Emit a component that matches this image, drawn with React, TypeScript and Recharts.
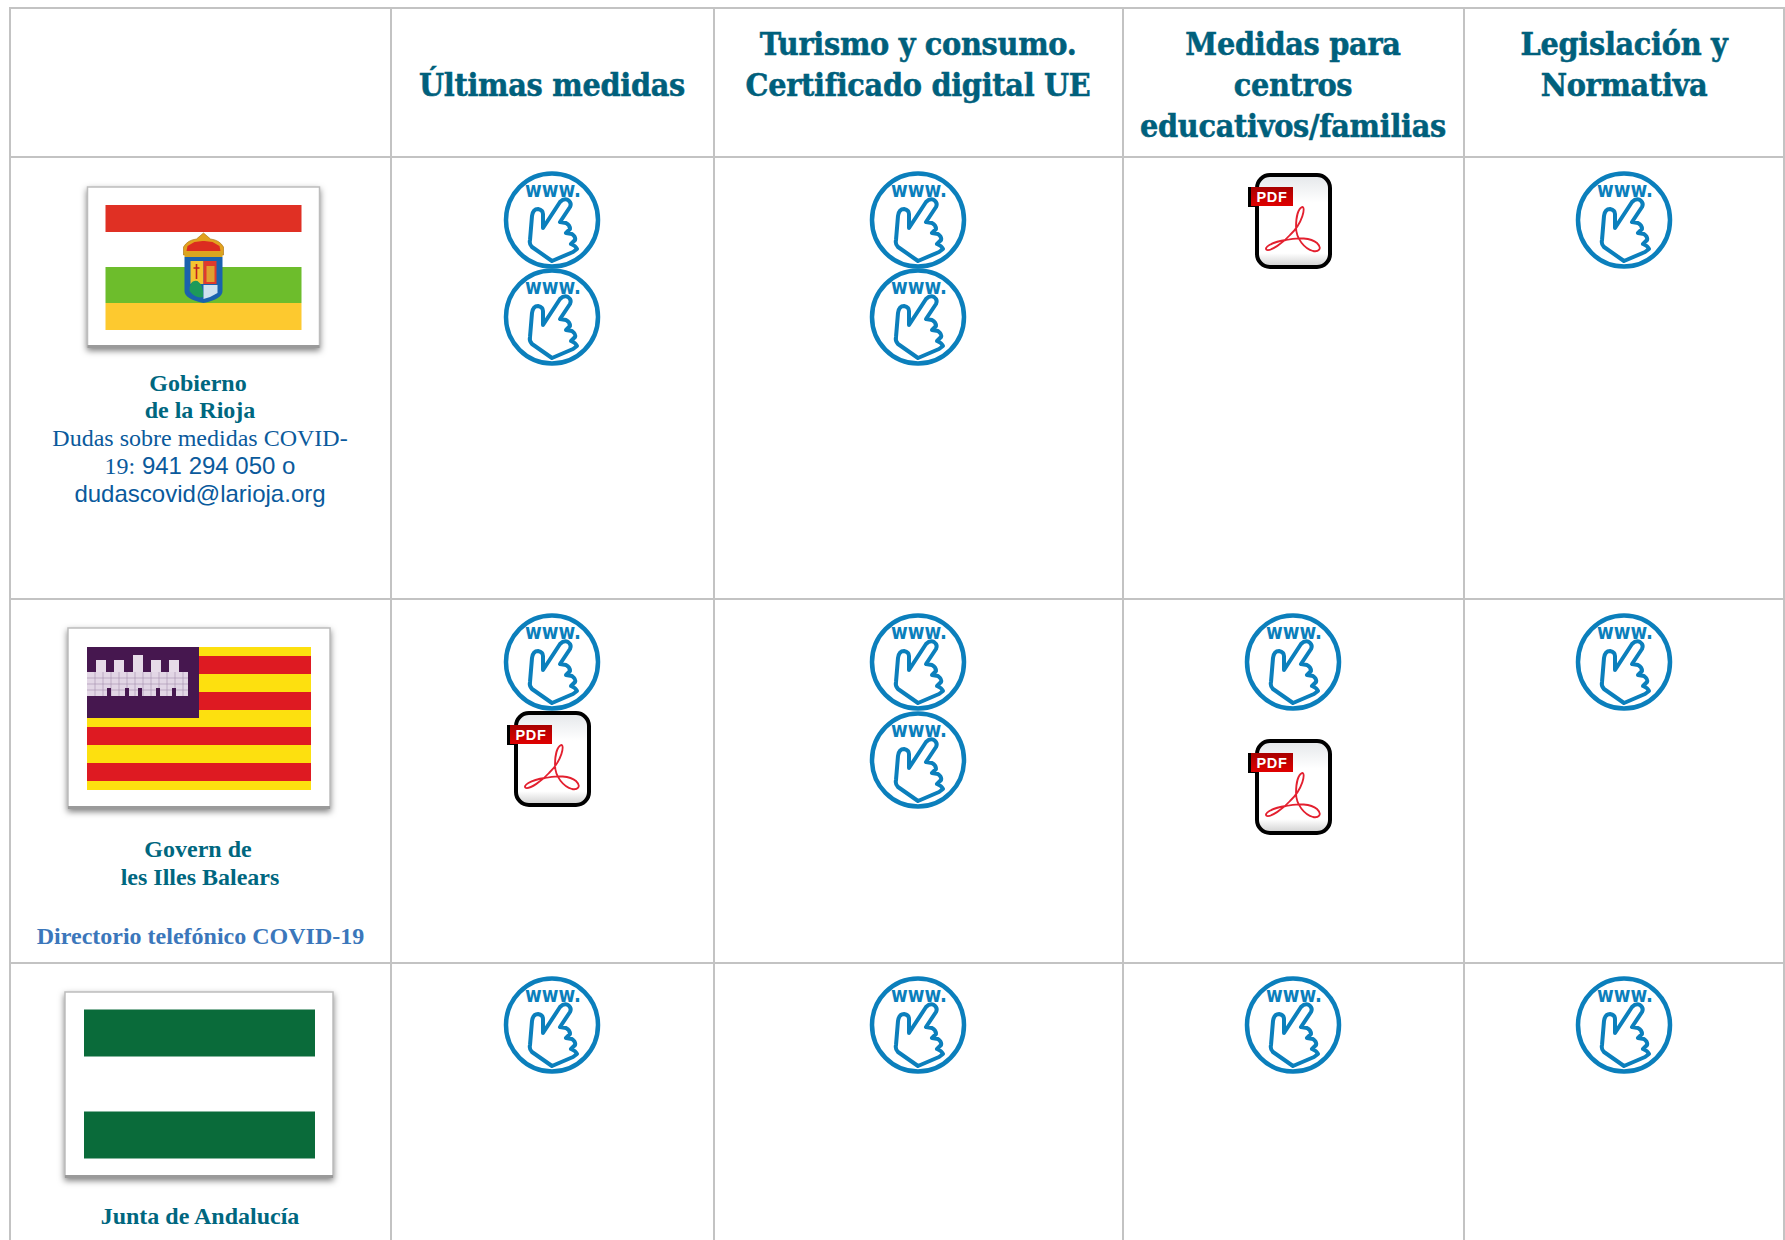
import { ScatterChart, Scatter, XAxis, YAxis, ReferenceLine } from 'recharts';

// la tabla se dibuja sobre ejes numericos en px de la imagen
const W = 1785;
const H = 1240;

const columnLinesX = [10, 391, 714, 1123, 1464, 1784];
const rowLinesY = [8, 157, 599, 963];

const COL1 = 552;
const COL2 = 918;
const COL3 = 1293;
const COL4 = 1624;

const headerLabels = [
  { x: COL1, y: 96, text: 'Últimas medidas' },
  { x: COL2, y: 55, text: 'Turismo y consumo.' },
  { x: COL2, y: 96, text: 'Certificado digital UE' },
  { x: COL3, y: 55, text: 'Medidas para' },
  { x: COL3, y: 96, text: 'centros' },
  { x: COL3, y: 137, text: 'educativos/familias' },
  { x: COL4, y: 55, text: 'Legislación y' },
  { x: COL4, y: 96, text: 'Normativa' },
];

const orgNames = [
  { x: 198, y: 391, text: 'Gobierno' },
  { x: 200, y: 418, text: 'de la Rioja' },
  { x: 198, y: 857, text: 'Govern de' },
  { x: 200, y: 885, text: 'les Illes Balears' },
  { x: 200, y: 1224, text: 'Junta de Andalucía' },
];

const phoneLink = [{ x: 200.5, y: 944, text: 'Directorio telefónico COVID-19' }];
const serifNotes = [{ x: 200, y: 446, text: 'Dudas sobre medidas COVID-' }];
const mixedNotes = [{ x: 200, y: 474, lead: '19:', text: ' 941 294 050 o' }];
const sansNotes = [{ x: 200, y: 502, text: 'dudascovid@larioja.org' }];

const wwwIcons = [
  { x: COL1, y: 220 },
  { x: COL1, y: 317 },
  { x: COL2, y: 220 },
  { x: COL2, y: 317 },
  { x: COL4, y: 220 },
  { x: COL1, y: 662 },
  { x: COL2, y: 662 },
  { x: COL2, y: 760 },
  { x: COL3, y: 662 },
  { x: COL4, y: 662 },
  { x: COL1, y: 1025 },
  { x: COL2, y: 1025 },
  { x: COL3, y: 1025 },
  { x: COL4, y: 1025 },
];

const pdfIcons = [
  { x: COL3, y: 221 },
  { x: COL1, y: 759 },
  { x: COL3, y: 787 },
];

const riojaFlag = [{ x: 203.5, y: 267 }];
const balearesFlag = [{ x: 199, y: 718 }];
const andaluciaFlag = [{ x: 199, y: 1084.5 }];

const GRID = '#c3c3c3';
const TEAL = '#00677f';
const BLUE = '#0a5a9c';
const ICON_BLUE = '#0b7fbc';

function WwwIcon({ cx, cy }: any) {
  return (
    <g transform={`translate(${cx},${cy})`}>
      <ellipse rx={46} ry={46.5} fill="#fff" stroke={ICON_BLUE} strokeWidth={4.5} />
      <text x={1} y={-23} textAnchor="middle" fontFamily="DejaVu Sans" fontWeight="bold" fontSize={22} textLength={56} lengthAdjust="spacingAndGlyphs" fill={ICON_BLUE}>
        www.
      </text>
      <path
        d="M0,41 L-20,27 Q-23,24 -22,20 L-20,-4 Q-19,-11 -14,-11 Q-9,-10 -9,-6 L-9,8 L8,-18 Q12,-22 16,-20 Q20,-17 18,-13 L8,2 L14,3 Q18,5 18,9 L14,13 L20,14 Q24,17 23,20 L19,24 Q24,26 25,29 L21,32 Z"
        fill="#fff"
        stroke={ICON_BLUE}
        strokeWidth={4}
        strokeLinejoin="round"
      />
    </g>
  );
}

function PdfIcon({ cx, cy }: any) {
  return (
    <g transform={`translate(${cx},${cy})`}>
      <defs>
        <linearGradient id="pdfBody" x1="0" y1="0" x2="0" y2="1">
          <stop offset="0" stopColor="#e4e7ea" />
          <stop offset="0.3" stopColor="#ffffff" />
          <stop offset="0.85" stopColor="#ffffff" />
          <stop offset="1" stopColor="#cfcfcf" />
        </linearGradient>
        <linearGradient id="pdfTag" x1="0" y1="0" x2="0" y2="1">
          <stop offset="0" stopColor="#a80000" />
          <stop offset="1" stopColor="#e00000" />
        </linearGradient>
      </defs>
      <rect x={-36} y={-46} width={73} height={92} rx={13} fill="url(#pdfBody)" stroke="#000" strokeWidth={4} />
      <rect x={-45} y={-34} width={10} height={20} fill="#000" />
      <rect x={-42} y={-34} width={42} height={19} fill="url(#pdfTag)" />
      <text x={-21} y={-19.5} textAnchor="middle" fontFamily="Liberation Sans" fontWeight="bold" fontSize={14.5} letterSpacing={0.6} fill="#fff">
        PDF
      </text>
      <path
        d="M9,-14 C13,-15 10,2 -3,14 C-10,22 -22,30 -26,29 C-30,27 -22,21 -7,19 C5,16 18,17 24,22 C30,28 25,31 20,30 C12,28 3,18 3,6 C3,-3 5,-12 9,-14 Z"
        fill="none"
        stroke="#e3202f"
        strokeWidth={1.8}
      />
    </g>
  );
}

function FlagFrame({ w, h }: { w: number; h: number }) {
  return (
    <>
      <rect x={-w / 2} y={-h / 2} width={w} height={h} fill="#fff" stroke="#bdbdbd" strokeWidth={1.5} style={{ filter: 'drop-shadow(0 3px 3px rgba(0,0,0,0.5))' }} />
      <rect x={-w / 2} y={h / 2 - 2} width={w} height={3} fill="#9a9a9a" />
    </>
  );
}

function RiojaFlag({ cx, cy }: any) {
  return (
    <g transform={`translate(${cx},${cy})`}>
      <FlagFrame w={232} h={160} />
      <rect x={-98} y={-62} width={196} height={27} fill="#e03024" />
      <rect x={-98} y={0} width={196} height={36} fill="#6dbd2c" />
      <rect x={-98} y={36} width={196} height={27} fill="#fdc92f" />
      {/* corona */}
      <path d="M-20,-12 L-20,-20 Q-16,-27 -7,-28 L0,-34 L7,-28 Q16,-27 20,-20 L20,-12 Z" fill="#e2a21f" stroke="#b07a1a" strokeWidth={0.7} />
      <path d="M-17,-16 L-16,-21 L-9,-25 L-1,-26 L1,-26 L9,-25 L16,-21 L17,-16 Z" fill="#dc2c20" />
      <rect x={-19} y={-15} width={38} height={5} fill="#d9a520" />
      {/* escudo */}
      <path d="M-19,-10 L19,-10 L19,24 Q19,32 0,36 Q-19,32 -19,24 Z" fill="#1a62ad" />
      <rect x={-13} y={-6} width={13} height={23} fill="#f4c430" />
      <rect x={0} y={-6} width={13} height={23} fill="#e03a2c" />
      <path d="M-7,-3 L-7,12 M-10,1 L-4,1" stroke="#c02020" strokeWidth={1.6} />
      <rect x={3} y={-1} width={8} height={16} fill="#e0a030" />
      <path d="M-14,24 Q-14,12 -6,14 Q0,18 0,30 Q-8,32 -14,24 Z" fill="#1d9a5a" />
      <path d="M0,18 L14,18 L14,26 Q8,30 0,32 Z" fill="#cfe2ef" />
    </g>
  );
}

const castleTowers = [-98, -80, -61, -43, -25];
const balearesRedStripes = [-62, -26, 9, 45];

function BalearesFlag({ cx, cy }: any) {
  return (
    <g transform={`translate(${cx},${cy})`}>
      <FlagFrame w={262} h={180} />
      <rect x={-112} y={-71} width={224} height={143} fill="#fde00f" />
      {balearesRedStripes.map((y) => (
        <rect key={y} x={-112} y={y} width={224} height={18} fill="#de1a22" />
      ))}
      <rect x={-112} y={-71} width={112} height={71} fill="#46174f" />
      {/* castillo */}
      {castleTowers.map((x, i) => (
        <g key={i}>
          <rect x={x - 5} y={i === 2 ? -63 : -58} width={10} height={22} fill="#e6dbe8" />
          <rect x={x - 1} y={-45} width={3} height={7} fill="#46174f" />
        </g>
      ))}
      <rect x={-112} y={-46} width={101} height={24} fill="#e2d6e5" />
      {[-104, -96, -88, -80, -72, -64, -56, -48, -40, -32, -24, -16].map((x) => (
        <line key={x} x1={x} x2={x} y1={-46} y2={-22} stroke="#a58fad" strokeWidth={0.6} />
      ))}
      {[-40, -34, -28].map((y) => (
        <line key={y} x1={-112} x2={-11} y1={y} y2={y} stroke="#a58fad" strokeWidth={0.6} />
      ))}
      {[-92, -74, -61, -43, -27].map((x) => (
        <rect key={x} x={x} y={-30} width={4} height={8} fill="#46174f" />
      ))}
    </g>
  );
}

function AndaluciaFlag({ cx, cy }: any) {
  return (
    <g transform={`translate(${cx},${cy})`}>
      <FlagFrame w={268} h={185} />
      <rect x={-115} y={-75} width={231} height={47} fill="#0a6b3a" />
      <rect x={-115} y={27} width={231} height={47} fill="#0a6b3a" />
    </g>
  );
}

const textShape = (family: string, size: number, weight: string, fill: string, spacing = 0, thicken = 0) =>
  ({ cx, cy, payload }: any) => (
    <text x={cx} y={cy} textAnchor="middle" fontFamily={family} fontSize={size} fontWeight={weight} fill={fill} letterSpacing={spacing} stroke={thicken ? fill : 'none'} strokeWidth={thicken}>
      {payload.text}
    </text>
  );

function MixedNote({ cx, cy, payload }: any) {
  return (
    <text x={cx} y={cy} textAnchor="middle" fontSize={24} fill={BLUE} fontFamily="Liberation Sans" xmlSpace="preserve">
      <tspan fontFamily="Liberation Serif">{payload.lead}</tspan>
      {payload.text}
    </text>
  );
}

const series: [any[], any][] = [
  [wwwIcons, WwwIcon],
  [pdfIcons, PdfIcon],
  [riojaFlag, RiojaFlag],
  [balearesFlag, BalearesFlag],
  [andaluciaFlag, AndaluciaFlag],
  [headerLabels, textShape('DejaVu Serif Condensed', 32, 'bold', '#00607c', -0.3, 0.5)],
  [orgNames, textShape('Liberation Serif', 24, 'bold', TEAL)],
  [phoneLink, textShape('Liberation Serif', 24, 'bold', '#3b77bb')],
  [serifNotes, textShape('Liberation Serif', 24, 'normal', BLUE)],
  [mixedNotes, MixedNote],
  [sansNotes, textShape('Liberation Sans', 24, 'normal', BLUE)],
];

export default function App() {
  return (
    <div style={{ position: 'absolute', left: 0, top: 0, width: W, height: H, background: '#fff' }}>
      <ScatterChart width={W} height={H} margin={{ top: 0, right: 0, bottom: 0, left: 0 }}>
        <XAxis type="number" dataKey="x" domain={[0, W]} hide />
        <YAxis type="number" dataKey="y" domain={[0, H]} reversed hide />
        {columnLinesX.map((x) => (
          <ReferenceLine key={x} segment={[{ x, y: 7 }, { x, y: H }]} stroke={GRID} strokeWidth={2} />
        ))}
        {rowLinesY.map((y) => (
          <ReferenceLine key={y} segment={[{ x: 9, y }, { x: W, y }]} stroke={GRID} strokeWidth={2} />
        ))}
        {series.map(([data, shape], i) => (
          <Scatter key={i} data={data} shape={shape} isAnimationActive={false} />
        ))}
      </ScatterChart>
    </div>
  );
}
